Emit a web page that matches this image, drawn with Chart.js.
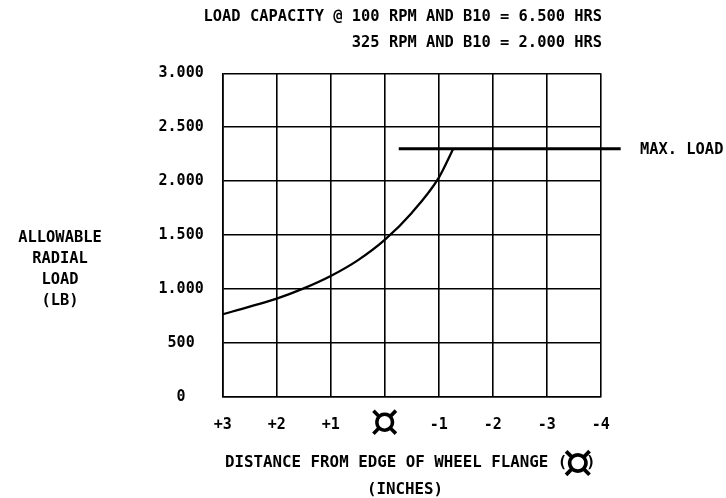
<!DOCTYPE html>
<html>
<head>
<meta charset="utf-8">
<script src="https://cdn.jsdelivr.net/npm/chart.js@4.4.1/dist/chart.umd.min.js"></script>
<style>
html,body{margin:0;padding:0;background:#fff;}
#wrap{width:726px;height:498px;position:relative;}
</style>
</head>
<body>
<div id="wrap"><canvas id="c" width="726" height="498"></canvas></div>
<script>
// ---- data ----
const distance = [3, 2.5, 2, 1.5, 1, 0.5, 0, -0.5, -1, -1.27];
const loadLb   = [765, 835, 910, 1005, 1120, 1265, 1455, 1705, 2030, 2300];
const maxLoadX = [-0.26, -4.37];
const maxLoadY = [2300, 2300];
const xTickValues = [3, 2, 1, 0, -1, -2, -3, -4];
const yTickValues = [0, 500, 1000, 1500, 2000, 2500, 3000];
const titleLines = ['LOAD CAPACITY @ 100 RPM AND B10 = 6.500 HRS', '325 RPM AND B10 = 2.000 HRS'];
const yTitleLines = ['ALLOWABLE', 'RADIAL', 'LOAD', '(LB)'];
const xTitleMain = 'DISTANCE FROM EDGE OF WHEEL FLANGE (';
const xTitleSub = '(INCHES)';
const centerSymbol = '\u00A4';
const maxLoadLabel = 'MAX. LOAD';

const FONT = '"DejaVu Sans Mono", "Liberation Mono", monospace';
const SYMFONT = '"DejaVu Sans", sans-serif';

function fmtThousands(v) {
  if (v >= 1000) return Math.floor(v / 1000) + '.' + String(v % 1000).padStart(3, '0');
  return String(v);
}

const textPlugin = {
  id: 'texts',
  afterDraw(chart) {
    const ctx = chart.ctx;
    ctx.save();
    ctx.fillStyle = '#000';
    ctx.textBaseline = 'middle';
    ctx.font = 'bold 15.4px ' + FONT;
    // top title
    ctx.textAlign = 'right';
    ctx.fillText(titleLines[0], 602, 17);
    ctx.fillText(titleLines[1], 602, 43);
    // max load label
    ctx.textAlign = 'left';
    ctx.fillText(maxLoadLabel, 640, 150);
    // y title
    ctx.textAlign = 'center';
    const ys = [238, 259, 280, 301];
    yTitleLines.forEach((t, i) => ctx.fillText(t, 60, ys[i]));
    // x title
    ctx.textAlign = 'left';
    ctx.font = 'bold 15.8px ' + FONT;
    ctx.fillText(xTitleMain, 225, 463);
    let x = 225 + ctx.measureText(xTitleMain).width;
    ctx.font = '48px ' + SYMFONT;
    ctx.fillText(centerSymbol, x - 5, 466);
    x += ctx.measureText(centerSymbol).width - 12;
    ctx.font = 'bold 15.8px ' + FONT;
    ctx.fillText(')', x, 463);
    ctx.textAlign = 'center';
    ctx.fillText(xTitleSub, 405, 490);
    ctx.restore();
  }
};

new Chart(document.getElementById('c'), {
  type: 'line',
  data: {
    datasets: [
      {
        data: distance.map((d, i) => ({x: d, y: loadLb[i]})),
        borderColor: '#000',
        borderWidth: 2.3,
        pointRadius: 0,
        cubicInterpolationMode: 'monotone',
        fill: false
      },
      {
        data: maxLoadX.map((d, i) => ({x: d, y: maxLoadY[i]})),
        borderColor: '#000',
        borderWidth: 3.2,
        pointRadius: 0,
        borderCapStyle: 'butt',
        clip: false,
        fill: false
      }
    ]
  },
  options: {
    responsive: false,
    animation: false,
    devicePixelRatio: 1,
    layout: {padding: {left: 0, top: 73.3, right: 125.3, bottom: 0}},
    plugins: {legend: {display: false}, tooltip: {enabled: false}, title: {display: false}},
    scales: {
      x: {
        type: 'linear',
        min: -4, max: 3, reverse: true,
        afterBuildTicks(s) { s.ticks = xTickValues.map(v => ({value: v})); },
        afterFit(s) { s.height = 101.3; },
        grid: {color: '#000', lineWidth: 1.6, drawTicks: false},
        border: {color: '#000', width: 1.6},
        ticks: {
          padding: 18,
          color: '#000',
          maxRotation: 0,
          autoSkip: false,
          font: (c) => (c.tick && c.tick.value === 0)
            ? {family: SYMFONT, size: 46, lineHeight: '20px'}
            : {family: FONT, size: 15, weight: 'bold', lineHeight: '20px'},
          callback: (v) => v > 0 ? '+' + v : (v === 0 ? centerSymbol : String(v))
        }
      },
      y: {
        type: 'linear',
        min: 0, max: 3000,
        afterBuildTicks(s) { s.ticks = yTickValues.map(v => ({value: v})); },
        afterFit(s) { s.width = 222.7; },
        grid: {color: '#000', lineWidth: 1.6, drawTicks: false},
        border: {color: '#000', width: 1.6},
        ticks: {
          padding: 19,
          crossAlign: 'center',
          color: '#000',
          font: {family: FONT, size: 15, weight: 'bold'},
          callback: (v) => fmtThousands(v)
        }
      }
    }
  },
  plugins: [textPlugin]
});
</script>
</body>
</html>
